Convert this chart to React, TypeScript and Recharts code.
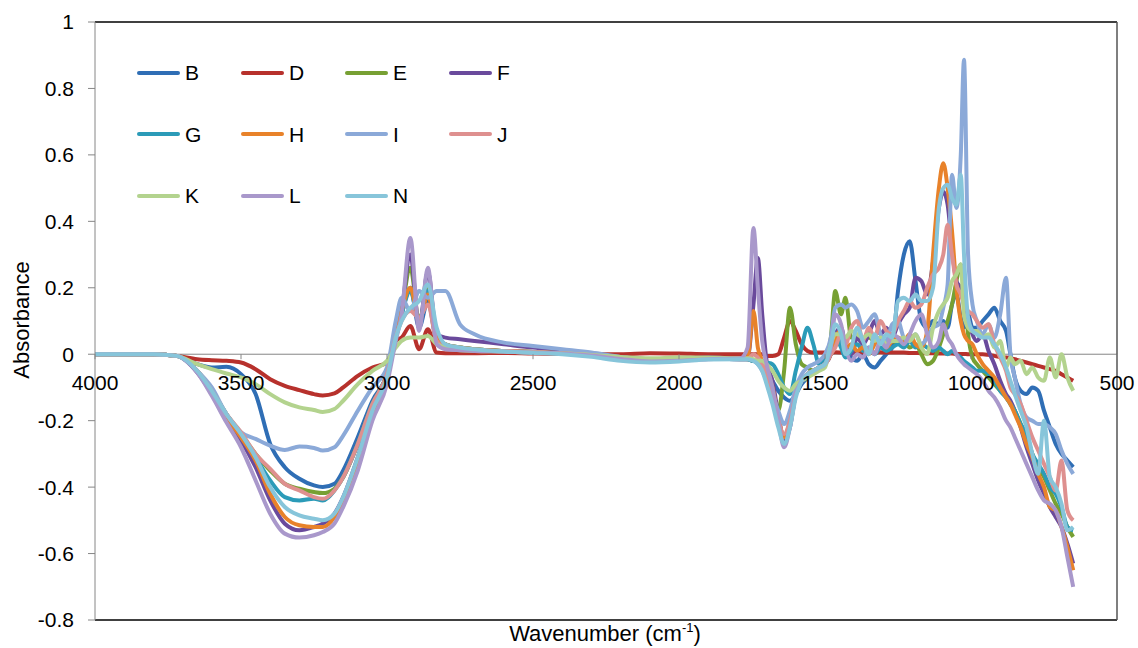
import React from "react";
import { Line, LineChart, ReferenceLine, XAxis, YAxis } from "recharts";

// wavenumber grid (cm-1), shared by every series
const WAVENUMBER = [
  4000, 3800, 3720, 3650, 3600, 3550, 3500, 3450, 3400, 3350, 3300, 3250, 3220, 3180, 3150, 3100, 3050, 3000,
  2970, 2950, 2920, 2890, 2860, 2830, 2800, 2750, 2700,
  2600, 2500, 2400, 2300, 2200, 2100, 2000, 1900,
  1790, 1765, 1745, 1730, 1715, 1700, 1680, 1660, 1640, 1620, 1600, 1580, 1560, 1540, 1520, 1500,
  1480, 1465, 1445, 1430, 1410, 1390, 1370, 1350, 1330, 1310, 1290, 1270,
  1250, 1230, 1210, 1190, 1170, 1150, 1130, 1110, 1095, 1080, 1065, 1050, 1035, 1024, 1010, 995,
  980, 960, 940, 920, 900, 880, 865, 850, 830, 810, 790, 770, 750, 730, 710, 690, 670, 650,
];

const B = [
  0, 0, -0.005, -0.03, -0.04, -0.038, -0.06, -0.12, -0.27, -0.34, -0.375, -0.395, -0.4, -0.39, -0.35, -0.25, -0.14, -0.06,
  0.05, 0.12, 0.2, 0.08, 0.16, 0.04, 0.025, 0.015, 0.012,
  0.01, 0.007, 0.003, -0.003, -0.012, -0.02, -0.018, -0.013,
  -0.015, -0.015, -0.02, -0.02, -0.03, -0.05, -0.08, -0.11, -0.13, -0.14, -0.12, -0.09, -0.07, -0.05, -0.04, -0.02,
  0.0, 0.03, 0.04, 0.02, -0.01, -0.02, 0.0, -0.03, -0.04, -0.02, 0.0, 0.02,
  0.19, 0.3, 0.34, 0.22, 0.1, 0.08, 0.1, 0.09, 0.1, 0.08, 0.15, 0.18, 0.11, 0.08, 0.12, 0.08,
  0.08, 0.1, 0.12, 0.14, 0.1, 0.07, 0.0, -0.07, -0.11, -0.12, -0.1, -0.11, -0.17, -0.22, -0.27, -0.3, -0.32, -0.34,
];

const D = [
  0, 0, -0.005, -0.015, -0.018, -0.02, -0.025, -0.045, -0.075, -0.095, -0.108, -0.12, -0.124, -0.118, -0.1, -0.065, -0.04, -0.025,
  0.04, 0.05, 0.085, 0.015, 0.075, 0.005, 0.003, 0.003, 0.003,
  0.004, 0.002, 0.001, 0.0, 0.0, 0.003, 0.002, 0.0,
  0, 0, 0, 0, 0, -0.005, -0.005, 0.0, 0.05, 0.1, 0.07, 0.03, 0.01, 0.005, 0.005, 0.005,
  0.005, 0.006, 0.005, 0.004, 0.005, 0.006, 0.005, 0.004, 0.005, 0.006, 0.005, 0.005,
  0.005, 0.005, 0.004, 0.004, 0.003, 0.003, 0.003, 0.002, 0.002, 0.002, 0.002, 0.001, 0.001, 0.001, 0.0, 0.0,
  0.0, 0.0, -0.002, -0.005, -0.008, -0.01, -0.012, -0.015, -0.02, -0.025, -0.03, -0.035, -0.04, -0.045, -0.05, -0.06, -0.07, -0.08,
];

const E = [
  0, 0, -0.005, -0.05, -0.11, -0.18, -0.24, -0.3, -0.35, -0.39, -0.405, -0.415, -0.418, -0.405, -0.37, -0.27, -0.15, -0.06,
  0.05, 0.13, 0.26, 0.1, 0.2, 0.05, 0.03, 0.02, 0.015,
  0.01, 0.007, 0.003, -0.003, -0.012, -0.02, -0.018, -0.013,
  -0.012, -0.015, -0.02, -0.02, -0.03, -0.06, -0.1, -0.17, -0.05, 0.14, 0.03, -0.03, -0.04, -0.05, -0.04, -0.02,
  0.05, 0.19, 0.12, 0.17, 0.05, 0.05, 0.04, 0.05, 0.04, 0.05, 0.03, 0.04,
  0.03, 0.04, 0.02, 0.03, 0.0, -0.03, -0.02, 0.02, 0.06, 0.1, 0.15, 0.22, 0.27, 0.2, 0.06, -0.01,
  -0.03, -0.05, -0.07, -0.09, -0.11, -0.13, -0.15, -0.17, -0.21, -0.25, -0.3, -0.34, -0.37, -0.41, -0.45, -0.48, -0.52, -0.55,
];

const F = [
  0, 0, -0.005, -0.055, -0.12, -0.2, -0.26, -0.34, -0.44, -0.51, -0.53, -0.52, -0.51, -0.48, -0.43, -0.31, -0.17, -0.065,
  0.05, 0.13, 0.3, 0.08, 0.25, 0.06, 0.05, 0.045, 0.04,
  0.03, 0.02, 0.012, 0.003, -0.008, -0.015, -0.014, -0.01,
  -0.012, -0.01, 0.15, 0.29, 0.12, -0.02, -0.08, -0.18, -0.26, -0.22, -0.12, -0.08, -0.06, -0.05, -0.04, -0.03,
  0.0, 0.06, 0.08, 0.03, 0.0, 0.05, 0.03, 0.06, 0.1, 0.06, 0.08, 0.05,
  0.09, 0.12, 0.14, 0.23, 0.22, 0.18, 0.28, 0.44, 0.49, 0.45, 0.32, 0.22, 0.2, 0.17, 0.11, 0.06,
  0.04, 0.06, 0.01, -0.03, -0.08, -0.12, -0.14, -0.17, -0.22, -0.28, -0.33, -0.38, -0.42, -0.46, -0.49, -0.52, -0.57, -0.63,
];

const G = [
  0, 0, -0.005, -0.05, -0.11, -0.18, -0.24, -0.31, -0.38, -0.43, -0.44, -0.435, -0.44, -0.41, -0.37, -0.27, -0.15, -0.06,
  0.05, 0.12, 0.19, 0.1, 0.19, 0.05, 0.03, 0.02, 0.015,
  0.01, 0.007, 0.003, -0.003, -0.012, -0.02, -0.018, -0.013,
  -0.015, -0.015, -0.02, -0.02, -0.02, -0.025, -0.03, -0.06, -0.1, -0.12, -0.05, 0.02, 0.08, 0.03, -0.03, -0.01,
  0.01, 0.05, 0.02, -0.01, 0.01, 0.03, 0.01, 0.02, 0.0, 0.02, 0.01, 0.02,
  0.03, 0.02, 0.04, 0.02, 0.03, 0.02, 0.01, 0.02, 0.01, 0.0, 0.01, 0.0, -0.01, -0.02, -0.03, -0.04,
  -0.05, -0.05, -0.06, -0.08, -0.11, -0.13, -0.15, -0.17, -0.21, -0.24, -0.3, -0.33, -0.36, -0.4, -0.42, -0.46, -0.52, -0.53,
];

const H = [
  0, 0, -0.005, -0.05, -0.115, -0.19, -0.25, -0.32, -0.42, -0.49, -0.515, -0.52, -0.52, -0.49, -0.44, -0.32, -0.18, -0.07,
  0.05, 0.13, 0.2, 0.1, 0.18, 0.05, 0.03, 0.02, 0.015,
  0.01, 0.007, 0.003, -0.003, -0.012, -0.02, -0.018, -0.013,
  -0.012, -0.01, 0.13, 0.02, -0.02, -0.05, -0.1, -0.19, -0.25, -0.2, -0.12, -0.08, -0.06, -0.05, -0.04, -0.03,
  0.0, 0.05, 0.07, 0.02, 0.03, 0.01, 0.02, 0.0, 0.03, 0.05, 0.02, 0.04,
  0.05, 0.04, 0.06, 0.03, 0.02, 0.07, 0.3, 0.5, 0.575, 0.5, 0.37, 0.2, 0.1, 0.06, 0.04, 0.03,
  0.0, -0.03, -0.05, -0.07, -0.1, -0.13, -0.15, -0.18, -0.22, -0.27, -0.31, -0.36, -0.4, -0.46, -0.47, -0.52, -0.58, -0.65,
];

const I = [
  0, 0, -0.005, -0.05, -0.1, -0.18, -0.235, -0.255, -0.275, -0.288, -0.278, -0.282, -0.29, -0.28, -0.245, -0.17, -0.1, -0.04,
  0.1, 0.17, 0.13, 0.19, 0.17, 0.19, 0.19, 0.09, 0.06,
  0.035, 0.025, 0.015, 0.005, -0.008, -0.018, -0.016, -0.012,
  -0.015, -0.015, -0.02, -0.03, -0.05, -0.08, -0.12, -0.17, -0.21, -0.17, -0.1, -0.06, -0.04, -0.03, -0.02, 0.0,
  0.05, 0.14, 0.15, 0.14, 0.15, 0.13, 0.08, 0.1, 0.12, 0.06, 0.04, 0.09,
  0.1, 0.05, 0.04, 0.06, 0.03, 0.05, 0.08, 0.09, 0.14, 0.21, 0.54, 0.44, 0.6, 0.886, 0.3, 0.15,
  0.1, 0.06, 0.09, 0.05, 0.12, 0.23, 0.0, -0.07, -0.15, -0.19, -0.2, -0.21, -0.21, -0.22, -0.24, -0.29, -0.33, -0.36,
];

const J = [
  0, 0, -0.005, -0.05, -0.11, -0.18, -0.235, -0.3, -0.345, -0.39, -0.41, -0.43, -0.435, -0.41, -0.37, -0.27, -0.15, -0.06,
  0.05, 0.1, 0.13, 0.11, 0.15, 0.04, 0.02, 0.015, 0.012,
  0.01, 0.007, 0.003, -0.003, -0.012, -0.02, -0.018, -0.013,
  -0.015, -0.015, 0.0, -0.01, -0.03, -0.06, -0.12, -0.2, -0.24, -0.2, -0.12, -0.08, -0.06, -0.05, -0.04, -0.03,
  0.0, 0.02, 0.06, 0.03, 0.08, 0.1, 0.04, 0.08, 0.05, 0.1, 0.07, 0.06,
  0.1, 0.13, 0.16, 0.14, 0.15, 0.2, 0.24, 0.26, 0.3, 0.39, 0.3, 0.21, 0.18, 0.15, 0.13, 0.12,
  0.1, 0.08, 0.09, 0.03, -0.01, -0.05, -0.1, -0.12, -0.15, -0.2, -0.25, -0.29, -0.33, -0.37, -0.41, -0.32, -0.47, -0.5,
];

const K = [
  0, 0, -0.005, -0.03, -0.045, -0.058, -0.07, -0.09, -0.12, -0.145, -0.16, -0.168, -0.174, -0.165, -0.14, -0.09, -0.05, -0.02,
  0.02, 0.04, 0.05, 0.05, 0.055, 0.03, 0.02, 0.012, 0.01,
  0.008, 0.005, 0.002, -0.002, -0.008, -0.012, -0.01, -0.01,
  -0.012, -0.012, -0.015, -0.02, -0.02, -0.03, -0.05, -0.08, -0.1, -0.11, -0.09, -0.08, -0.07, -0.06, -0.05, -0.04,
  0.03, 0.06, 0.06, 0.05, 0.07, 0.06, 0.05, 0.06, 0.04, 0.05, 0.03, 0.04,
  0.04, 0.05, 0.04, 0.06, 0.02, 0.0, 0.08, 0.13, 0.15, 0.17, 0.22, 0.24, 0.27, 0.12, 0.08, 0.07,
  0.07, 0.05, 0.06, 0.02, 0.04, -0.04, -0.01, -0.03, -0.02, -0.06, -0.04, -0.07, -0.08, -0.01, -0.07, 0.0, -0.07, -0.11,
];

const L = [
  0, 0, -0.005, -0.055, -0.125, -0.205, -0.28, -0.38, -0.48, -0.54, -0.552, -0.545, -0.535, -0.51, -0.46, -0.35, -0.2, -0.09,
  0.04, 0.12, 0.35, 0.07, 0.26, 0.03, 0.015, 0.012, 0.01,
  0.008, 0.005, 0.002, -0.004, -0.014, -0.022, -0.02, -0.015,
  -0.012, 0.02, 0.38, 0.2, 0.04, -0.03, -0.1, -0.2, -0.28, -0.22, -0.12, -0.08, -0.06, -0.05, -0.04, -0.03,
  0.02, 0.12, 0.09, 0.02, -0.02, 0.0, -0.01, 0.02, 0.0, 0.04, 0.02, 0.06,
  0.05, 0.03, 0.06, 0.1, 0.12, 0.06, 0.02, 0.04, 0.09, 0.05, 0.03, 0.0, -0.02, -0.03, -0.04, -0.05,
  -0.06, -0.08, -0.11, -0.13, -0.16, -0.2, -0.22, -0.25, -0.29, -0.33, -0.37, -0.41, -0.44, -0.45, -0.47, -0.52, -0.61, -0.7,
];

const N = [
  0, 0, -0.005, -0.05, -0.11, -0.18, -0.24, -0.31, -0.4, -0.46, -0.485, -0.495, -0.5, -0.48, -0.43, -0.31, -0.17, -0.07,
  0.05, 0.1, 0.14, 0.16, 0.21, 0.08, 0.03, 0.02, 0.015,
  0.008, 0.004, 0.0, -0.008, -0.02, -0.025, -0.022, -0.016,
  -0.015, -0.015, -0.02, -0.03, -0.05, -0.09, -0.15, -0.22, -0.27, -0.22, -0.13, -0.08, -0.06, -0.05, -0.04, -0.03,
  0.03, 0.09, 0.06, 0.0, 0.02, 0.08, 0.04, 0.0, 0.06, 0.03, 0.06, 0.05,
  0.16, 0.17, 0.16, 0.18, 0.16, 0.16, 0.2, 0.44, 0.5, 0.51, 0.47, 0.45, 0.54, 0.3, 0.11, 0.07,
  0.06, 0.05, 0.05, 0.03, 0.0, -0.04, -0.08, -0.12, -0.17, -0.22, -0.3, -0.36, -0.2, -0.37, -0.4, -0.45, -0.53, -0.52,
];

const X_TICKS = [4000, 3500, 3000, 2500, 2000, 1500, 1000, 500];
const Y_TICKS = [-0.8, -0.6, -0.4, -0.2, 0, 0.2, 0.4, 0.6, 0.8, 1];

const SERIES = [
  { key: "B", color: "#2F6EB5", values: B },
  { key: "D", color: "#B7312C", values: D },
  { key: "E", color: "#77A033", values: E },
  { key: "F", color: "#6A4A9C", values: F },
  { key: "G", color: "#2B9BB8", values: G },
  { key: "H", color: "#E8822A", values: H },
  { key: "I", color: "#8BA9D8", values: I },
  { key: "J", color: "#DE908F", values: J },
  { key: "K", color: "#B3D38E", values: K },
  { key: "L", color: "#A998CB", values: L },
  { key: "N", color: "#87C5DA", values: N },
];

const rows = WAVENUMBER.map((w, i) => {
  const r: Record<string, number> = { w };
  SERIES.forEach((s) => {
    r[s.key] = s.values[i];
  });
  return r;
});

const W = 1138;
const H_ = 648;
const M = { top: 22, right: 21, left: 0, bottom: 0 };
const Y_AXIS_W = 95;
const X_AXIS_H = 28;
const PLOT_H = H_ - M.top - M.bottom - X_AXIS_H;
const ZERO_Y = M.top + (PLOT_H * 1) / 1.8; // y=0 sits 1/1.8 of the way down

const font = "'Liberation Sans', Arial, sans-serif";

// x tick labels hang under the zero line, like Excel's "axis crosses at 0"
function XTick(props: any) {
  const { x, payload } = props;
  return (
    <g transform={`translate(${x},${ZERO_Y})`}>
      <line x1={0} y1={0} x2={0} y2={5} stroke="#868686" />
      <text x={0} y={36} textAnchor="middle" fontSize={21} fill="#000" fontFamily={font}>
        {payload.value}
      </text>
    </g>
  );
}

function LegendGrid() {
  return (
    <div
      style={{
        position: "absolute",
        top: 42,
        left: 137,
        display: "grid",
        gridTemplateColumns: "repeat(4, 104px)",
        gridAutoRows: "61.5px",
        fontFamily: font,
        fontSize: 21,
        color: "#000",
      }}
    >
      {SERIES.map((s) => (
        <div key={s.key} style={{ display: "flex", alignItems: "center" }}>
          <span style={{ width: 43, height: 4, borderRadius: 2, background: s.color, marginRight: 5 }} />
          <span style={{ lineHeight: 1 }}>{s.key}</span>
        </div>
      ))}
    </div>
  );
}

export default function App() {
  return (
    <div style={{ position: "absolute", left: 0, top: 0, width: W, height: H_, background: "#fff", fontFamily: font }}>
      <LineChart width={W} height={H_} data={rows} margin={M}>
        <XAxis
          dataKey="w"
          type="number"
          domain={[500, 4000]}
          reversed
          ticks={X_TICKS}
          height={X_AXIS_H}
          axisLine={false}
          tickLine={false}
          tick={<XTick />}
          interval={0}
        />
        <YAxis
          type="number"
          domain={[-0.8, 1]}
          ticks={Y_TICKS}
          width={Y_AXIS_W}
          axisLine={{ stroke: "#868686" }}
          tickLine={{ stroke: "#868686" }}
          tickSize={7}
          tickMargin={14}
          interval={0}
          tick={{ fontSize: 21, fill: "#000", fontFamily: font }}
          tickFormatter={(v: number) => (v === 0 ? "0" : String(+v.toFixed(1)))}
        />
        <ReferenceLine y={0} stroke="#868686" strokeWidth={1} />
        <ReferenceLine y={1} stroke="#000" strokeWidth={1.5} />
        <ReferenceLine y={-0.8} stroke="#000" strokeWidth={1.5} />
        <ReferenceLine x={500} stroke="#555" strokeWidth={1.5} />
        {SERIES.map((s) => (
          <Line
            key={s.key}
            type="monotone"
            dataKey={s.key}
            name={s.key}
            stroke={s.color}
            strokeWidth={4}
            strokeLinejoin="round"
            dot={false}
            activeDot={false}
            isAnimationActive={false}
          />
        ))}
      </LineChart>
      <LegendGrid />
      <svg width={W} height={H_} style={{ position: "absolute", left: 0, top: 0, pointerEvents: "none" }}>
        <text
          transform="translate(29,320) rotate(-90)"
          textAnchor="middle"
          fontSize={22}
          fontFamily={font}
          fill="#000"
        >
          Absorbance
        </text>
        <text x={605} y={641} textAnchor="middle" fontSize={22} fontFamily={font} fill="#000">
          Wavenumber (cm
          <tspan fontSize={13} dy={-9}>-1</tspan>
          <tspan dy={9}>)</tspan>
        </text>
      </svg>
    </div>
  );
}
